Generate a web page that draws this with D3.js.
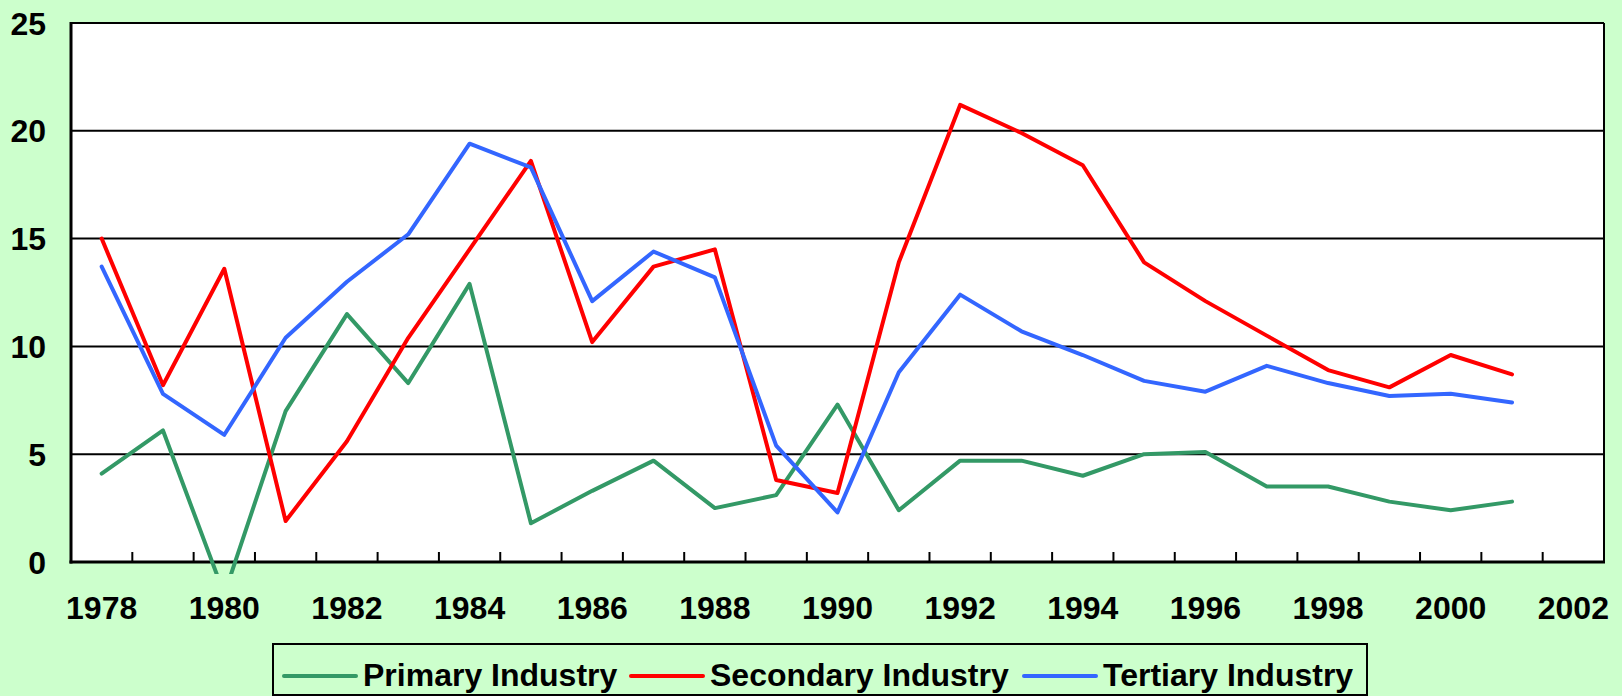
<!DOCTYPE html>
<html>
<head>
<meta charset="utf-8">
<script src="https://cdn.jsdelivr.net/npm/d3@7"></script>
<style>
  body { margin: 0; background: #ccffcc; }
  svg { display: block; }
  text { font-family: Arial, "Liberation Sans", sans-serif; font-weight: bold; fill: #000; }
</style>
</head>
<body>
<svg width="1622" height="696"></svg>
<script>
// years on the category axis (data stops at 2001)
var years = d3.range(1978, 2003)
var dataYears = d3.range(1978, 2002)
var yTicks = [0, 5, 10, 15, 20, 25]

var primary = [4.1, 6.1, -1.5, 7.0, 11.5, 8.3, 12.9, 1.8, 3.3, 4.7, 2.5, 3.1, 7.3, 2.4, 4.7, 4.7, 4.0, 5.0, 5.1, 3.5, 3.5, 2.8, 2.4, 2.8]
var secondary = [15.0, 8.2, 13.6, 1.9, 5.6, 10.4, 14.5, 18.6, 10.2, 13.7, 14.5, 3.8, 3.2, 13.9, 21.2, 19.9, 18.4, 13.9, 12.1, 10.5, 8.9, 8.1, 9.6, 8.7]
var tertiary = [13.7, 7.8, 5.9, 10.4, 13.0, 15.2, 19.4, 18.3, 12.1, 14.4, 13.2, 5.4, 2.3, 8.8, 12.4, 10.7, 9.6, 8.4, 7.9, 9.1, 8.3, 7.7, 7.8, 7.4]

var seriesNames = ["Primary Industry", "Secondary Industry", "Tertiary Industry"]
var seriesColors = ["#339966", "#ff0000", "#3366ff"]
var seriesValues = [primary, secondary, tertiary]

var svg = d3.select("svg")
var plotLeft = 71, plotRight = 1604, plotTop = 23, plotBottom = 562

var x = d3.scaleBand().domain(years).range([plotLeft, plotRight])
var y = d3.scaleLinear().domain([0, 25]).range([plotBottom, plotTop])

// plot area
svg.append("rect")
  .attr("x", plotLeft).attr("y", plotTop)
  .attr("width", plotRight - plotLeft).attr("height", plotBottom - plotTop)
  .attr("fill", "#fff")

// gridlines
svg.append("g").selectAll("line")
  .data(yTicks.filter(d => d > 0))
  .enter().append("line")
  .attr("x1", plotLeft).attr("x2", plotRight)
  .attr("y1", d => y(d)).attr("y2", d => y(d))
  .attr("stroke", "#000").attr("stroke-width", 2)

// right border
svg.append("line")
  .attr("x1", plotRight).attr("x2", plotRight).attr("y1", plotTop).attr("y2", plotBottom)
  .attr("stroke", "#000").attr("stroke-width", 2)

// category boundary ticks
svg.append("g").selectAll("line")
  .data(years.slice(1))
  .enter().append("line")
  .attr("x1", d => x(d)).attr("x2", d => x(d))
  .attr("y1", plotBottom).attr("y2", plotBottom - 10)
  .attr("stroke", "#000").attr("stroke-width", 2)

// axes lines
svg.append("line")
  .attr("x1", plotLeft).attr("x2", plotLeft).attr("y1", plotTop - 1).attr("y2", plotBottom + 1.5)
  .attr("stroke", "#000").attr("stroke-width", 3)
svg.append("line")
  .attr("x1", plotLeft - 1.5).attr("x2", plotRight + 1).attr("y1", plotBottom).attr("y2", plotBottom)
  .attr("stroke", "#000").attr("stroke-width", 3)

// y labels
svg.append("g").selectAll("text")
  .data(yTicks)
  .enter().append("text")
  .attr("x", 46).attr("y", d => y(d))
  .attr("dy", "0.36em")
  .attr("text-anchor", "end")
  .style("font-size", "32px")
  .text(d => d)

// x labels
svg.append("g").selectAll("text")
  .data(years.filter(d => d % 2 === 0))
  .enter().append("text")
  .attr("x", d => x(d) + x.bandwidth() / 2)
  .attr("y", 619)
  .attr("text-anchor", "middle")
  .style("font-size", "32px")
  .text(d => d)

// lines, clipped a bit below the axis like the original
svg.append("clipPath").attr("id", "plotClip")
  .append("rect")
  .attr("x", plotLeft).attr("y", plotTop)
  .attr("width", plotRight - plotLeft).attr("height", plotBottom - plotTop + 12)

var line = d3.line()
  .x((d, i) => x(dataYears[i]) + x.bandwidth() / 2)
  .y(d => y(d))

svg.append("g").attr("clip-path", "url(#plotClip)")
  .selectAll("path")
  .data(seriesValues)
  .enter().append("path")
  .attr("d", d => line(d))
  .attr("fill", "none")
  .attr("stroke", (d, i) => seriesColors[i])
  .attr("stroke-width", 4)
  .attr("stroke-linejoin", "round")
  .attr("stroke-linecap", "round")

// legend
var legend = svg.append("g")
legend.append("rect")
  .attr("x", 273).attr("y", 644)
  .attr("width", 1367 - 273).attr("height", 51)
  .attr("fill", "#ccffcc").attr("stroke", "#000").attr("stroke-width", 2)

var legendX = [284, 631, 1024]
var legendItems = legend.selectAll("g.item")
  .data(seriesNames)
  .enter().append("g")
  .attr("class", "item")
  .attr("transform", (d, i) => "translate(" + legendX[i] + ",676)")
legendItems.append("line")
  .attr("x1", 0).attr("x2", 72)
  .attr("stroke", (d, i) => seriesColors[i])
  .attr("stroke-width", 4)
  .attr("stroke-linecap", "round")
legendItems.append("text")
  .attr("x", 79).attr("y", 10)
  .style("font-size", "32px")
  .text(d => d)
</script>
</body>
</html>
